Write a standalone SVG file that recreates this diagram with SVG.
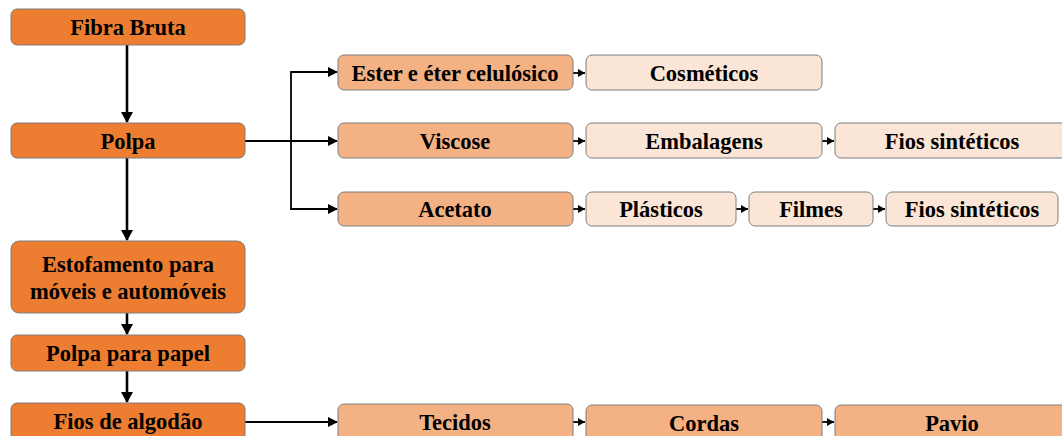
<svg xmlns="http://www.w3.org/2000/svg" width="1062" height="436" viewBox="0 0 1062 436">
<style>
.n rect{stroke:#7f7f7f;stroke-width:1}
.d rect{fill:#ED7D31}
.m rect{fill:#F4B183}
.l rect{fill:#FBE5D6}
text{font-family:"Liberation Serif","Times New Roman",serif;font-weight:bold;font-size:22.5px;fill:#000;text-anchor:middle;dominant-baseline:central}
.c{fill:none;stroke:#000}
.big{stroke-width:2.6}
.sm{stroke-width:1.8}
</style>
<defs>
<marker id="ab" markerWidth="12" markerHeight="12" refX="10" refY="6" orient="auto" markerUnits="userSpaceOnUse"><path d="M0,0 L11,6 L0,12 Z" fill="#000"/></marker>
<marker id="am" markerWidth="10" markerHeight="10" refX="9" refY="5" orient="auto" markerUnits="userSpaceOnUse"><path d="M0,0 L10,5 L0,10 Z" fill="#000"/></marker>
<marker id="as" markerWidth="8" markerHeight="8" refX="7" refY="4" orient="auto" markerUnits="userSpaceOnUse"><path d="M0,0 L7,4 L0,8 Z" fill="#000"/></marker>
</defs>
<g id="connectors">
<path class="c big" d="M127,45 V122" marker-end="url(#ab)"/>
<path class="c big" d="M127,158 V240" marker-end="url(#ab)"/>
<path class="c big" d="M127,313 V334" marker-end="url(#ab)"/>
<path class="c big" d="M127,371 V402" marker-end="url(#ab)"/>
<path class="c sm" d="M245,141 H337" marker-end="url(#am)"/>
<path class="c sm" d="M291,141 V72 H337" marker-end="url(#am)"/>
<path class="c sm" d="M291,141 V209 H337" marker-end="url(#am)"/>
<path class="c sm" d="M245,422 H337" marker-end="url(#am)"/>
<path class="c sm" d="M573,73 H585" marker-end="url(#as)"/>
<path class="c sm" d="M573,141 H585" marker-end="url(#as)"/>
<path class="c sm" d="M822,141 H834" marker-end="url(#as)"/>
<path class="c sm" d="M573,209 H585" marker-end="url(#as)"/>
<path class="c sm" d="M736,209 H748" marker-end="url(#as)"/>
<path class="c sm" d="M873,209 H885" marker-end="url(#as)"/>
<path class="c sm" d="M573,422 H585" marker-end="url(#as)"/>
<path class="c sm" d="M822,422 H834" marker-end="url(#as)"/>
</g>
<g id="fibra" class="n d"><rect x="11" y="9" width="234" height="36" rx="6"/><text x="128" y="27">Fibra Bruta</text></g>
<g id="polpa" class="n d"><rect x="11" y="123" width="234" height="35" rx="6"/><text x="128" y="141">Polpa</text></g>
<g id="estofamento" class="n d"><rect x="11" y="241" width="234" height="72" rx="8"/><text x="128" y="264">Estofamento para</text><text x="128" y="291">móveis e automóveis</text></g>
<g id="polpapapel" class="n d"><rect x="11" y="335" width="234" height="36" rx="6"/><text x="128" y="353">Polpa para papel</text></g>
<g id="fiosalgodao" class="n d"><rect x="11" y="403" width="234" height="40" rx="6"/><text x="128" y="421">Fios de algodão</text></g>
<g id="ester" class="n m"><rect x="338" y="55" width="235" height="35" rx="6"/><text x="455" y="73">Ester e éter celulósico</text></g>
<g id="viscose" class="n m"><rect x="338" y="123" width="235" height="35" rx="6"/><text x="455" y="141">Viscose</text></g>
<g id="acetato" class="n m"><rect x="338" y="192" width="235" height="34" rx="6"/><text x="455" y="209">Acetato</text></g>
<g id="cosmeticos" class="n l"><rect x="586" y="55" width="236" height="35" rx="6"/><text x="704" y="73">Cosméticos</text></g>
<g id="embalagens" class="n l"><rect x="586" y="123" width="236" height="35" rx="6"/><text x="704" y="141">Embalagens</text></g>
<g id="fiossint1" class="n l"><rect x="835" y="123" width="236" height="35" rx="6"/><text x="952" y="141">Fios sintéticos</text></g>
<g id="plasticos" class="n l"><rect x="586" y="192" width="150" height="34" rx="6"/><text x="661" y="209">Plásticos</text></g>
<g id="filmes" class="n l"><rect x="749" y="192" width="124" height="34" rx="6"/><text x="811" y="209">Filmes</text></g>
<g id="fiossint2" class="n l"><rect x="886" y="192" width="172" height="34" rx="6"/><text x="972" y="209">Fios sintéticos</text></g>
<g id="tecidos" class="n m"><rect x="338" y="404" width="235" height="40" rx="6"/><text x="455" y="422">Tecidos</text></g>
<g id="cordas" class="n m"><rect x="586" y="405" width="236" height="40" rx="6"/><text x="704" y="423">Cordas</text></g>
<g id="pavio" class="n m"><rect x="835" y="405" width="236" height="40" rx="6"/><text x="952" y="423">Pavio</text></g>
</svg>
